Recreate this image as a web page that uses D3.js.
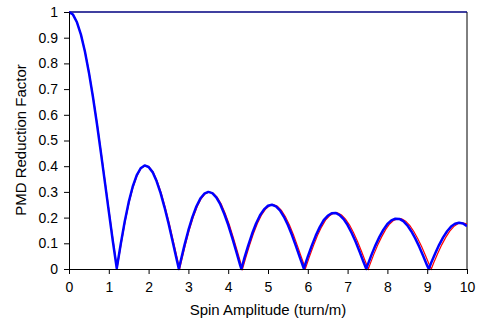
<!DOCTYPE html>
<html lang="en">
<head>
<meta charset="UTF-8">
<title>PMD Reduction Factor</title>
<script src="https://cdn.jsdelivr.net/npm/d3@7/dist/d3.min.js"></script>
<style>
  body { margin: 0; background: #fff; }
  svg { display: block; font-family: "Liberation Sans", Arial, sans-serif; }
</style>
</head>
<body>
<svg width="478" height="321"></svg>
<script>
// spin amplitude (turn/m) sample points
var spin = [0,0.1,0.2,0.3,0.4,0.5,0.6,0.7,0.8,0.9,1.0,1.1,1.2,1.3,1.4,1.5,1.6,1.7,1.8,1.9,
  2.0,2.1,2.2,2.3,2.4,2.5,2.6,2.7,2.76,2.8,2.9,3.0,3.1,3.2,3.3,3.4,3.5,3.6,3.7,3.8,3.9,
  4.0,4.1,4.2,4.3,4.33,4.4,4.5,4.6,4.7,4.8,4.9,5.0,5.1,5.2,5.3,5.4,5.5,5.6,5.7,5.8,5.9,
  6.0,6.1,6.2,6.3,6.4,6.5,6.6,6.7,6.8,6.9,7.0,7.1,7.2,7.3,7.4,7.47,7.5,7.6,7.7,7.8,7.9,
  8.0,8.1,8.2,8.3,8.4,8.5,8.6,8.7,8.8,8.9,9.0,9.04,9.1,9.2,9.3,9.4,9.5,9.6,9.7,9.8,9.9,10.0];
// same curve, red series sits slightly to the right
var spinRed = [0,0.101,0.201,0.302,0.403,0.504,0.604,0.705,0.806,0.906,1.007,1.108,1.208,1.309,1.410,1.511,1.611,1.712,1.813,1.913,
  2.014,2.115,2.215,2.316,2.417,2.518,2.618,2.719,2.779,2.820,2.920,3.021,3.122,3.222,3.323,3.424,3.525,3.625,3.726,3.827,3.927,
  4.028,4.129,4.229,4.330,4.360,4.431,4.532,4.632,4.733,4.834,4.934,5.035,5.136,5.236,5.337,5.438,5.539,5.639,5.740,5.841,5.941,
  6.042,6.143,6.243,6.344,6.445,6.546,6.646,6.747,6.848,6.948,7.049,7.150,7.250,7.351,7.452,7.522,7.553,7.653,7.754,7.855,7.955,
  8.056,8.157,8.257,8.358,8.459,8.560,8.660,8.761,8.862,8.962,9.063,9.103,9.164,9.264,9.365,9.466,9.567,9.667,9.768,9.869,9.969,10.07];
// PMD reduction factor
var factor = [1.000,0.990,0.960,0.912,0.846,0.765,0.671,0.567,0.455,0.340,0.224,0.110,0.003,0.097,0.185,0.260,0.320,0.364,0.392,0.403,
  0.397,0.377,0.342,0.296,0.240,0.178,0.110,0.041,0.000,0.027,0.092,0.151,0.202,0.243,0.274,0.293,0.300,0.295,0.279,0.252,0.215,
  0.172,0.122,0.069,0.015,0.000,0.039,0.090,0.137,0.177,0.209,0.232,0.246,0.250,0.244,0.228,0.203,0.171,0.133,0.090,0.045,0.002,
  0.048,0.091,0.130,0.163,0.190,0.207,0.217,0.218,0.210,0.194,0.171,0.141,0.107,0.068,0.027,0.000,0.014,0.055,0.092,0.125,0.153,
  0.175,0.189,0.196,0.195,0.186,0.170,0.147,0.119,0.087,0.051,0.013,0.000,0.024,0.060,0.094,0.123,0.147,0.165,0.176,0.180,0.177,0.167];
// unspun fibre reference
var refSpin = [0, 10];
var refFactor = [1, 1];

var xTicks = [0,1,2,3,4,5,6,7,8,9,10];
var yTicks = [0,0.1,0.2,0.3,0.4,0.5,0.6,0.7,0.8,0.9,1];

var svg = d3.select("svg");
var x = d3.scaleLinear().domain([0, 10]).range([69, 467]);
var y = d3.scaleLinear().domain([0, 1]).range([269, 12]);

svg.append("clipPath").attr("id", "plot")
  .append("rect").attr("x", 69).attr("y", 0).attr("width", 398).attr("height", 280);

function pts(xs, ys) {
  return xs.map(function(d, i) { return [d, ys[i]]; });
}
var line = d3.line().x(function(d) { return x(d[0]); }).y(function(d) { return y(d[1]); });

// right border
svg.append("line").attr("x1", 467).attr("x2", 467).attr("y1", 12).attr("y2", 269)
  .attr("stroke", "#000").attr("stroke-width", 1);

var g = svg.append("g").attr("clip-path", "url(#plot)");
g.append("path").datum(pts(refSpin, refFactor)).attr("d", line)
  .attr("fill", "none").attr("stroke", "#000080").attr("stroke-width", 1.5);
g.append("path").datum(pts(spinRed, factor)).attr("d", line)
  .attr("fill", "none").attr("stroke", "#ff0000").attr("stroke-width", 1.2);
g.append("path").datum(pts(spin, factor)).attr("d", line)
  .attr("fill", "none").attr("stroke", "#0000ff").attr("stroke-width", 2.5)
  .attr("stroke-linejoin", "round");

// axes
var xAxis = d3.axisBottom(x).tickValues(xTicks).tickSize(5).tickSizeOuter(0).tickFormat(d3.format("d"));
var yAxis = d3.axisLeft(y).tickValues(yTicks).tickSize(5).tickSizeOuter(0).tickFormat(function(d) { return d === 0 || d === 1 ? d : d3.format(".1f")(d); });

var gx = svg.append("g").attr("transform", "translate(0,269)").call(xAxis);
var gy = svg.append("g").attr("transform", "translate(69,0)").call(yAxis);
[gx, gy].forEach(function(a) {
  a.selectAll("path,line").attr("stroke", "#000");
  a.selectAll("text").attr("fill", "#000").style("font-size", "14px")
    .style("font-family", "'Liberation Sans', Arial, sans-serif");
});
gx.selectAll("text").attr("dy", "1em").attr("y", 9);
gy.selectAll("text").attr("x", -11);

svg.append("text").attr("x", 268).attr("y", 315).attr("text-anchor", "middle")
  .style("font-size", "15px").text("Spin Amplitude (turn/m)");
svg.append("text").attr("transform", "translate(26,140) rotate(-90)").attr("text-anchor", "middle")
  .style("font-size", "15px").text("PMD Reduction Factor");
</script>
</body>
</html>
